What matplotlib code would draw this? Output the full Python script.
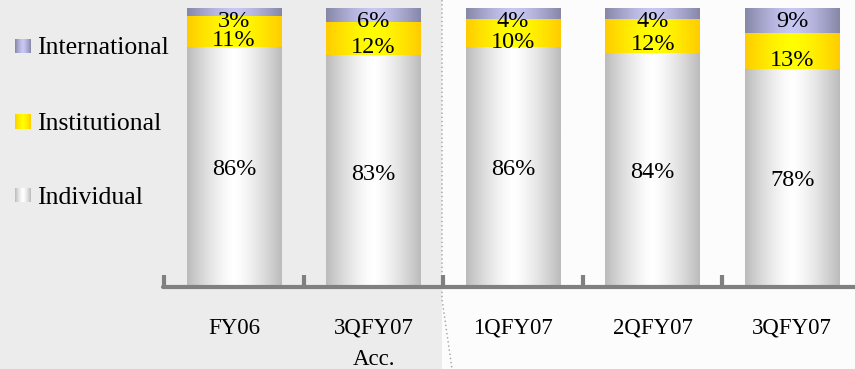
import matplotlib

matplotlib.use("Agg")

import numpy as np
import matplotlib.pyplot as plt
from matplotlib.patches import Rectangle

categories = ["FY06", "3QFY07\nAcc.", "1QFY07", "2QFY07", "3QFY07"]
individual = [86, 83, 86, 84, 78]
institutional = [11, 12, 10, 12, 13]
international = [3, 6, 4, 4, 9]
series_names = ["Individual", "Institutional", "International"]

# (edge colour, centre colour) for the horizontal "cylinder" gradient
GRADIENTS = {
    "Individual": ("#bcbcbc", "#ffffff"),
    "Institutional": ("#ffcc00", "#ffff00"),
    "International": ("#8787a8", "#c8c8f4"),
}
FONT = "Liberation Serif"


def gradient_image(edge, centre, n=64):
    e = np.array(matplotlib.colors.to_rgb(edge))
    c = np.array(matplotlib.colors.to_rgb(centre))
    t = np.linspace(-1, 1, n)
    w = 1 - np.abs(t) ** 1.4
    return (e[None, :] * (1 - w[:, None]) + c[None, :] * w[:, None])[None, :, :]


fig = plt.figure(figsize=(8.55, 3.69), dpi=100)
fig.patch.set_facecolor("#fcfcfc")
# grey panel on the left, dotted divider
fig.patches.append(Rectangle((0, 0), 442 / 855, 1, transform=fig.transFigure,
                             facecolor="#ececec", edgecolor="none", zorder=-10))
fig.lines.append(plt.Line2D([442 / 855, 442 / 855, 452 / 855], [1, 70 / 369, 0],
                            transform=fig.transFigure, color="#a0a0a0",
                            linestyle=(0, (1, 2)), linewidth=1.0, zorder=-9))

ax = fig.add_axes([163 / 855, 82 / 369, 692 / 855, 279 / 369])
ax.set_facecolor("none")

x = np.arange(len(categories))
width = 0.68
bottom = np.zeros(len(categories))
stacks = [individual, institutional, international]
for name, values in zip(series_names, stacks):
    bars = ax.bar(x, values, width, bottom=bottom, color="none", edgecolor="none")
    img = gradient_image(*GRADIENTS[name])
    for patch in bars:
        x0, y0 = patch.get_x(), patch.get_y()
        ax.imshow(img, extent=(x0, x0 + patch.get_width(), y0, y0 + patch.get_height()),
                  aspect="auto", interpolation="bilinear", zorder=2)
    bottom += np.array(values)

# value labels
for i in range(len(categories)):
    ind, ins, itl = individual[i], institutional[i], international[i]
    ax.text(i, ind / 2 - 1.0, f"{ind}%", ha="center", va="center", fontsize=17.5,
            family=FONT, zorder=3)
    ax.text(i, ind + ins / 2 - 3.2, f"{ins}%", ha="center", va="center",
            fontsize=17.5, family=FONT, zorder=3)
    ax.text(i, min(ind + ins + itl / 2, 95.3), f"{itl}%", ha="center",
            va="center", fontsize=17.5, family=FONT, zorder=3)

ax.set_xlim(-0.51, 4.45)
ax.set_ylim(0, 100)

for side in ("top", "right", "left"):
    ax.spines[side].set_visible(False)
ax.spines["bottom"].set_color("#808080")
ax.spines["bottom"].set_linewidth(3)
ax.spines["bottom"].set_capstyle("round")
ax.set_yticks([])
ax.set_xticks(x)
ax.set_xticklabels(categories, fontsize=16.5, family=FONT, linespacing=1.65, va="top")
ax.tick_params(axis="x", which="major", length=0, pad=22)
ax.set_xticks(np.arange(-0.5, 4, 1.0), minor=True)
ax.tick_params(axis="x", which="minor", direction="in", length=9, width=3,
               color="#808080")

# legend on the left
legend_rows = [("International", 46), ("Institutional", 121), ("Individual", 195)]
for name, ypx in legend_rows:
    yf = 1 - ypx / 369
    lax = fig.add_axes([15 / 855, yf - 7.5 / 369, 15 / 855, 15 / 369])
    lax.imshow(gradient_image(*GRADIENTS[name]), aspect="auto", interpolation="bilinear")
    lax.axis("off")
    fig.text(37 / 855, yf, name, fontsize=18.5, family=FONT, va="center_baseline")

fig.savefig("out.png", dpi=100, facecolor=fig.get_facecolor())
